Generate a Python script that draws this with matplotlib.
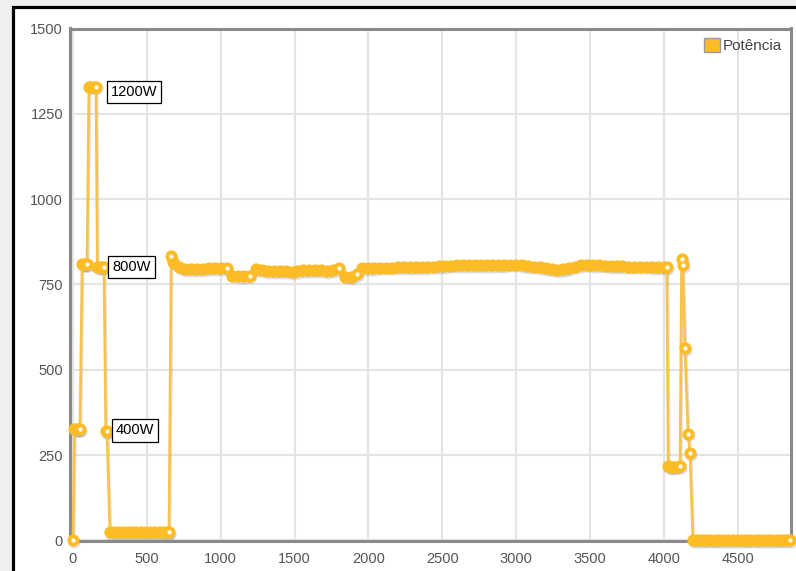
import numpy as np
import matplotlib
matplotlib.use("Agg")
import matplotlib.pyplot as plt
from matplotlib.patches import Rectangle, Patch
from matplotlib.transforms import offset_copy

plt.rcParams['font.family'] = ['Liberation Sans', 'DejaVu Sans']

# --- data (time in s, power in W) ---
start_time = [0, 10, 25, 40, 47, 62, 75, 88, 95, 108, 125, 140, 156,
              165, 180, 195, 210, 222, 230]
start_power = [0, 325, 325, 325, 325, 810, 810, 810, 810, 1330, 1330, 1330, 1330,
               800, 800, 800, 800, 320, 320]

idle_time = [250, 280, 310, 340, 370, 400, 430, 460, 490, 520, 550, 580, 610, 640, 650]
idle_power = [25, 25, 25, 25, 25, 25, 25, 25, 25, 25, 25, 25, 25, 25, 25]

plateau_time = [665, 680,
                720, 760, 800, 840, 880, 920, 960, 1000, 1040, 1080,
                1120, 1160, 1200, 1240, 1280, 1320, 1360, 1400, 1440, 1480,
                1520, 1560, 1600, 1640, 1680, 1720, 1760, 1800, 1840, 1880,
                1920, 1960, 2000, 2040, 2080, 2120, 2160, 2200, 2240, 2280,
                2320, 2360, 2400, 2440, 2480, 2520, 2560, 2600, 2640, 2680,
                2720, 2760, 2800, 2840, 2880, 2920, 2960, 3000, 3040, 3080,
                3120, 3160, 3200, 3240, 3280, 3320, 3360, 3400, 3440, 3480,
                3520, 3560, 3600, 3640, 3680, 3720, 3760, 3800, 3840, 3880,
                3920, 3960, 4000,
                4020]
plateau_power = [832, 815,
                 800, 796, 795, 795, 796, 797, 798, 798, 797, 776,
                 775, 774, 776, 795, 793, 790, 789, 789, 788, 787,
                 790, 791, 792, 792, 791, 790, 793, 798, 773, 772,
                 780, 797, 798, 798, 799, 799, 799, 800, 800, 800,
                 801, 801, 801, 802, 803, 804, 805, 806, 806, 806,
                 806, 807, 806, 806, 806, 807, 808, 808, 806, 804,
                 802, 800, 797, 795, 793, 794, 798, 802, 806, 808,
                 807, 806, 805, 804, 803, 803, 802, 802, 802, 802,
                 801, 801, 800,
                 800]

end_time = [4030, 4050, 4070, 4090, 4110, 4120, 4128, 4143, 4164, 4177]
end_power = [218, 215, 215, 216, 218, 825, 806, 563, 313, 255]

off_time = [4197, 4225, 4255, 4285, 4315, 4345, 4375, 4405, 4435, 4465, 4495, 4525,
            4555, 4585, 4615, 4645, 4675, 4705, 4735, 4765, 4795, 4825, 4855]
off_power = [0, 0, 0, 0, 0, 0, 0, 0, 0, 0, 0, 0,
             0, 0, 0, 0, 0, 0, 0, 0, 0, 0, 0]

labels = ["1200W", "800W", "400W"]
label_x = [255, 268, 290]
label_y = [1315, 802, 322]

t = np.array(start_time + idle_time + plateau_time + end_time + off_time)
p = np.array(start_power + idle_power + plateau_power + end_power + off_power)

# last sample before each step -> white highlight dot
jump = np.append(np.abs(np.diff(p)) > 15, True)

# --- figure ---
fig = plt.figure(figsize=(7.96, 5.71), dpi=100, facecolor='#efefef')
frame = Rectangle((13 / 796, -0.05), 1.2, 1 - 7 / 571 + 0.05, transform=fig.transFigure,
                  facecolor='white', edgecolor='black', linewidth=2.3, zorder=0)
fig.add_artist(frame)

ax = fig.add_axes([70 / 796, 30 / 571, 721 / 796, 512.5 / 571])
ax.set_facecolor('white')

yellow = '#FBBC26'
shadow_tr = offset_copy(ax.transData, fig=fig, x=1.2, y=-1.8, units='dots')
ax.plot(t, p, color='#777777', alpha=0.22, linewidth=1.8, marker='o', markersize=8.8,
        markeredgewidth=0, transform=shadow_tr, clip_on=False, zorder=2)
ax.plot(t, p, color='#F7C348', linewidth=1.9, marker='o', markersize=8.8,
        markerfacecolor=yellow, markeredgewidth=0, clip_on=False, zorder=3)
ax.plot(t[jump], p[jump], linestyle='none', marker='o', markersize=3,
        markerfacecolor='white', markeredgewidth=0, clip_on=False, zorder=4)

for txt, x, y in zip(labels, label_x, label_y):
    ax.text(x, y, txt, fontsize=10.5, color='black', ha='left', va='center', zorder=5,
            bbox=dict(boxstyle='square,pad=0.28', facecolor='white', edgecolor='black',
                      linewidth=0.9))

ax.set_xlim(-20, 4861)
ax.set_ylim(-2, 1500)
ax.set_xticks(np.arange(0, 4501, 500))
ax.set_yticks(np.arange(0, 1501, 250))
ax.grid(True, color='#e4e4e4', linewidth=1.5)
ax.set_axisbelow(True)
ax.tick_params(length=0, labelsize=10.5, labelcolor='#555555')
ax.tick_params(axis='x', pad=8)
ax.tick_params(axis='y', pad=5)
for s in ax.spines.values():
    s.set_color('#8a8a8a')
    s.set_linewidth(2.2)

handle = Patch(facecolor=yellow, edgecolor='#999999', linewidth=1.0, label='Potência')
leg = ax.legend(handles=[handle], loc='upper right',
                bbox_to_anchor=((782 - 70) / 721, (541 - 38) / 512.5),
                frameon=False, fontsize=11, handlelength=1.05, handleheight=1.05,
                handletextpad=0.15, borderpad=0, borderaxespad=0)
for tx in leg.get_texts():
    tx.set_color('#444444')

fig.savefig('out.png', dpi=100, facecolor=fig.get_facecolor())
